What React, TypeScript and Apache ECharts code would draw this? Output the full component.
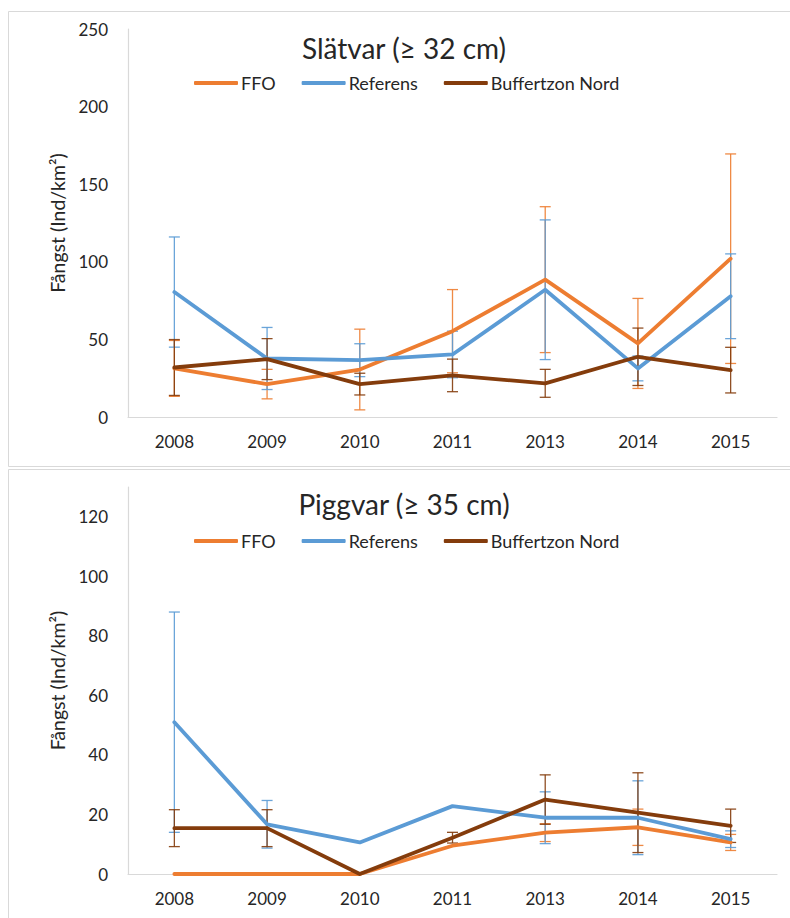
import React, { useEffect, useRef } from "react";
import * as echarts from "echarts";

// Survey years (categories on both panels)
const years = ["2008", "2009", "2010", "2011", "2013", "2014", "2015"];

// Slätvar (≥ 32 cm): catch per km² and ± error
const slatFFO = [31.3, 21.2, 30.6, 55.3, 88.5, 47.4, 102];
const slatFFOErr = [18, 9.5, 26, 26.8, 47, 29, 67.5];
const slatRef = [80.5, 37.7, 36.6, 40.3, 82, 31.3, 77.8];
const slatRefErr = [35.5, 20, 10.6, 15, 45, 8, 27.3];
const slatBuf = [31.9, 37.3, 21.2, 26.8, 21.7, 38.8, 30.2];
const slatBufErr = [18, 13.2, 7, 10.5, 9, 18.5, 14.7];

// Piggvar (≥ 35 cm): catch per km² and ± error
const pigFFO = [0, 0, 0, 9.5, 13.9, 15.7, 10.6];
const pigFFOErr = [0, 0, 0, 0, 3, 6.1, 2.7];
const pigRef = [51, 16.7, 10.6, 22.8, 18.9, 18.9, 11.7];
const pigRefErr = [37, 8, 0, 0, 8.7, 12.4, 2.8];
const pigBuf = [15.4, 15.4, 0, 12.2, 25, 20.6, 16.2];
const pigBufErr = [6.2, 6.2, 0, 1.8, 8.3, 13.4, 5.6];

const seriesNames = ["FFO", "Referens", "Buffertzon Nord"];
const colors = ["#ED7D31", "#5B9BD5", "#843C0C"];

const FONT = "Lato";
const TEXT = "#262626";
const AXIS = "#D9D9D9";

function errorData(vals: number[], errs: number[]) {
  const out: number[][] = [];
  vals.forEach((v, i) => {
    if (errs[i] > 0) out.push([i, v - errs[i], v + errs[i]]);
  });
  return out;
}

function errorSeries(name: string, color: string, idx: number, data: number[][]) {
  return {
    type: "custom",
    name,
    xAxisIndex: idx,
    yAxisIndex: idx,
    z: 1,
    silent: true,
    encode: { x: 0, y: [1, 2] },
    data,
    renderItem: (_params: any, api: any) => {
      const x = api.value(0);
      const lo = api.coord([x, api.value(1)]);
      const hi = api.coord([x, api.value(2)]);
      const hw = 5.5;
      const style = { stroke: color, lineWidth: 1.3, opacity: 0.9 };
      return {
        type: "group",
        children: [
          { type: "line", shape: { x1: lo[0], y1: lo[1], x2: hi[0], y2: hi[1] }, style },
          { type: "line", shape: { x1: lo[0] - hw, y1: lo[1], x2: lo[0] + hw, y2: lo[1] }, style },
          { type: "line", shape: { x1: hi[0] - hw, y1: hi[1], x2: hi[0] + hw, y2: hi[1] }, style },
        ],
      };
    },
  };
}

function lineSeries(name: string, color: string, idx: number, data: number[]) {
  return {
    type: "line",
    name,
    xAxisIndex: idx,
    yAxisIndex: idx,
    z: 3,
    data,
    symbol: "none",
    showSymbol: false,
    lineStyle: { color, width: 3.8, cap: "round", join: "round" },
    itemStyle: { color },
  };
}

function xAxis(idx: number) {
  return {
    type: "category",
    gridIndex: idx,
    data: years,
    boundaryGap: true,
    axisLine: { show: true, lineStyle: { color: AXIS, width: 1.2 } },
    axisTick: { show: false },
    axisLabel: { color: TEXT, fontFamily: FONT, fontSize: 17, margin: 16 },
    splitLine: { show: false },
  };
}

function yAxis(idx: number, max: number, interval: number) {
  return {
    type: "value",
    gridIndex: idx,
    min: 0,
    max,
    interval,
    name: "Fångst (Ind/km²)",
    nameLocation: "middle",
    nameRotate: 90,
    nameGap: 46,
    nameTextStyle: { color: TEXT, fontFamily: FONT, fontSize: 19.5 },
    axisLine: { show: true, lineStyle: { color: AXIS, width: 1.2 } },
    axisTick: { show: false },
    axisLabel: { color: TEXT, fontFamily: FONT, fontSize: 17, margin: 20, showMaxLabel: max % interval === 0 },
    splitLine: { show: false },
  };
}

function legend(top: number) {
  return {
    data: seriesNames.map((n) => ({ name: n, icon: "roundRect" })),
    left: 189,
    top,
    itemWidth: 44,
    itemHeight: 4,
    itemGap: 26,
    selectedMode: false,
    textStyle: { color: TEXT, fontFamily: FONT, fontSize: 18, padding: [0, 0, 0, -2] },
  };
}

export default function App() {
  const ref = useRef<HTMLDivElement>(null);

  useEffect(() => {
    if (!ref.current) return;
    const chart = echarts.init(ref.current, undefined, { renderer: "svg" });

    const panels = [
      { vals: [slatFFO, slatRef, slatBuf], errs: [slatFFOErr, slatRefErr, slatBufErr] },
      { vals: [pigFFO, pigRef, pigBuf], errs: [pigFFOErr, pigRefErr, pigBufErr] },
    ];

    const series: any[] = [];
    panels.forEach((p, idx) => {
      p.vals.forEach((v, k) => {
        series.push(errorSeries(seriesNames[k] + " fel " + idx, colors[k], idx, errorData(v, p.errs[k])));
      });
      p.vals.forEach((v, k) => {
        series.push(lineSeries(seriesNames[k], colors[k], idx, v));
      });
    });

    chart.setOption({
      animation: false,
      backgroundColor: "#ffffff",
      graphic: [
        {
          type: "rect",
          z: -10,
          shape: { x: 8.5, y: 11.5, width: 800, height: 455 },
          style: { fill: "none", stroke: AXIS, lineWidth: 1 },
        },
        {
          type: "rect",
          z: -10,
          shape: { x: 8.5, y: 469.5, width: 800, height: 500 },
          style: { fill: "none", stroke: AXIS, lineWidth: 1 },
        },
        {
          type: "text",
          x: 404,
          y: 48,
          style: {
            text: "Slätvar (≥ 32 cm)",
            fill: TEXT,
            fontFamily: FONT,
            fontSize: 28,
            align: "center",
            verticalAlign: "middle",
          },
        },
        {
          type: "text",
          x: 404,
          y: 504,
          style: {
            text: "Piggvar (≥ 35 cm)",
            fill: TEXT,
            fontFamily: FONT,
            fontSize: 28,
            align: "center",
            verticalAlign: "middle",
          },
        },
      ],
      legend: [legend(69), legend(527)],
      grid: [
        { left: 128, top: 29, width: 649, height: 388 },
        { left: 128, top: 487, width: 649, height: 387 },
      ],
      xAxis: [xAxis(0), xAxis(1)],
      yAxis: [yAxis(0, 250, 50), yAxis(1, 130, 20)],
      series,
    });

    return () => chart.dispose();
  }, []);

  return (
    <div
      ref={ref}
      style={{ position: "fixed", left: 0, top: 0, width: 790, height: 918 }}
    />
  );
}
